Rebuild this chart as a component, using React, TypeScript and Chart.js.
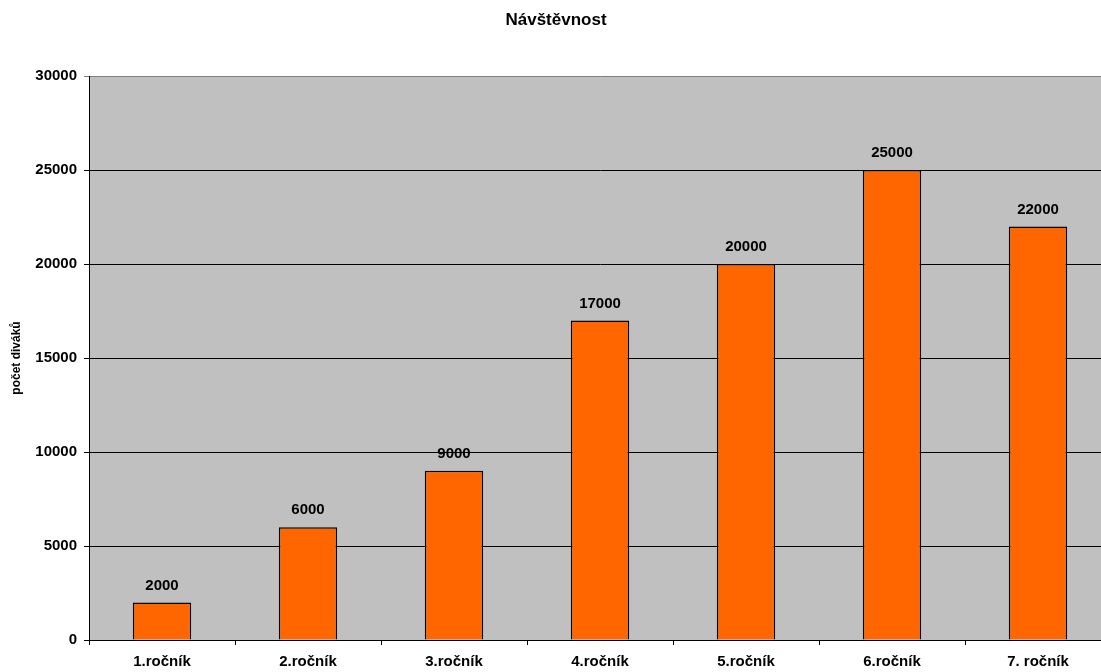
import React, { useEffect, useRef } from "react";
import { Chart, registerables } from "chart.js";

Chart.register(...registerables);

const categories = ["1.ročník", "2.ročník", "3.ročník", "4.ročník", "5.ročník", "6.ročník", "7. ročník"];
const visitors = [2000, 6000, 9000, 17000, 20000, 25000, 22000];
const chartTitle = "Návštěvnost";
const yTitle = "počet diváků";
const yMin = 0;
const yMax = 30000;
const yStep = 5000;

const FONT = "'Liberation Sans', Arial, sans-serif";

export default function App() {
  const ref = useRef<HTMLCanvasElement | null>(null);
  useEffect(() => {
    document.body.style.margin = "0";
    const canvas = ref.current!;
    const overlay = {
      id: "overlay",
      beforeDraw(chart: any) {
        const { ctx, chartArea } = chart;
        ctx.save();
        ctx.fillStyle = "#ffffff";
        ctx.fillRect(0, 0, chart.width, chart.height);
        ctx.fillStyle = "#C0C0C0";
        ctx.fillRect(chartArea.left, chartArea.top, chartArea.right - chartArea.left, chartArea.bottom - chartArea.top);
        ctx.restore();
      },
      afterDraw(chart: any) {
        const { ctx, chartArea } = chart;
        ctx.save();
        ctx.fillStyle = "#000";
        ctx.textAlign = "center";
        ctx.textBaseline = "middle";
        ctx.font = `bold 17px ${FONT}`;
        ctx.fillText(chartTitle, 556, 20);
        // y title
        ctx.save();
        ctx.translate(17, (chartArea.top + chartArea.bottom) / 2);
        ctx.rotate(-Math.PI / 2);
        ctx.font = `bold 12px ${FONT}`;
        ctx.fillText(yTitle, 0, 0);
        ctx.restore();
        // data labels
        ctx.font = `bold 15px ${FONT}`;
        const meta = chart.getDatasetMeta(0);
        meta.data.forEach((el: any, i: number) => {
          ctx.fillText(String(visitors[i]), el.x, el.y - 17);
        });
        ctx.restore();
      },
    };
    const chart = new Chart(canvas, {
      type: "bar",
      data: {
        labels: categories,
        datasets: [
          {
            data: visitors,
            backgroundColor: "#FF6600",
            borderColor: "#000000",
            borderWidth: 1.5,
            categoryPercentage: 1,
            barPercentage: 0.4,
          },
        ],
      },
      options: {
        responsive: false,
        animation: false,
        layout: { padding: { top: 76, left: 0, right: 9, bottom: 0 } },
        plugins: { legend: { display: false }, title: { display: false }, tooltip: { enabled: false } },
        scales: {
          x: {
            offset: true,
            grid: { display: true, drawOnChartArea: false, drawTicks: true, tickLength: 5, color: "#000", offset: true },
            border: { display: true, color: "#000", width: 1 },
            ticks: { color: "#000", font: { family: FONT, size: 15, weight: "bold" }, padding: 8, maxRotation: 0, autoSkip: false },
            afterFit: (s: any) => { s.height = 32; },
          },
          y: {
            min: yMin,
            max: yMax,
            grid: {
              color: (c: any) => (c.tick && c.tick.value === yMax ? "#808080" : "#000"),
              lineWidth: 1,
              drawTicks: true,
              tickLength: 5,
            },
            border: { display: true, color: "#000", width: 1 },
            ticks: {
              stepSize: yStep,
              color: "#000",
              font: { family: FONT, size: 15, weight: "bold" },
              padding: 7,
              callback: (v: any) => String(v),
            },
            afterFit: (s: any) => { s.width = 89; },
          },
        },
      },
      plugins: [overlay],
    });
    return () => chart.destroy();
  }, []);
  return (
    <div style={{ width: 1101, height: 672, overflow: "hidden" }}>
      <canvas ref={ref} width={1120} height={672} style={{ display: "block" }} />
    </div>
  );
}
